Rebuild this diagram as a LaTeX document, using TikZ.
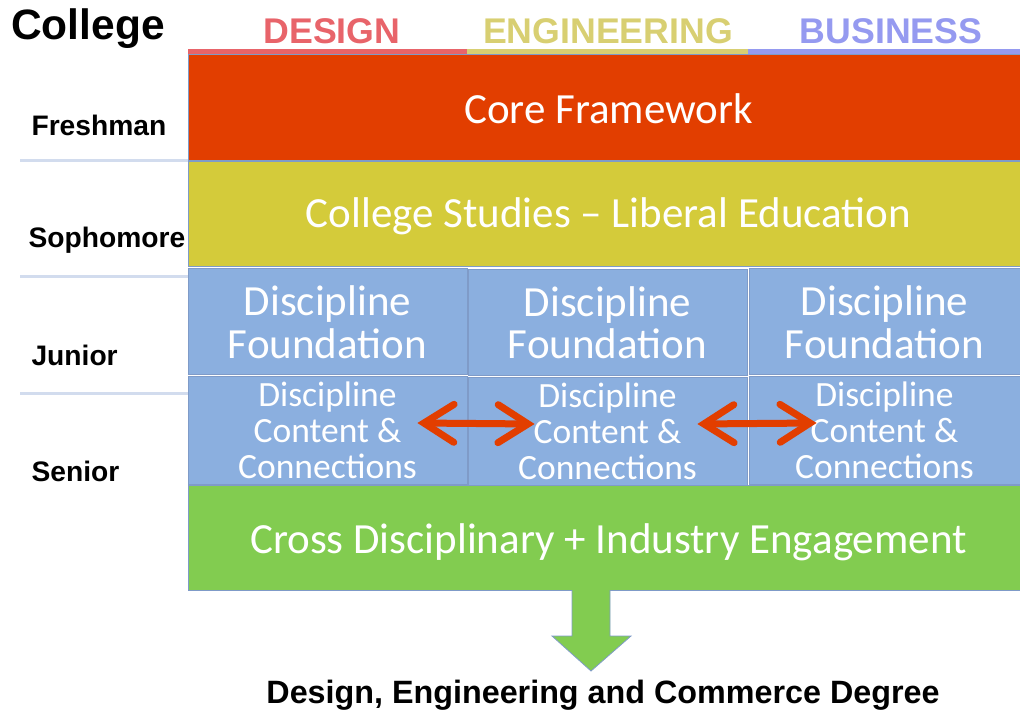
\documentclass[tikz,border=0pt]{standalone}
\usepackage{fontspec}
\setmainfont{Carlito}
\newfontfamily\labelfont{Liberation Sans}
\usetikzlibrary{arrows.meta}

\definecolor{coreRed}{HTML}{E23E00}
\definecolor{studyYellow}{HTML}{D4CB3A}
\definecolor{discBlue}{HTML}{8BAFDF}
\definecolor{crossGreen}{HTML}{82CC50}
\definecolor{edgeBlue}{HTML}{7F9BC8}
\definecolor{designRed}{HTML}{E8646A}
\definecolor{engYellow}{HTML}{D8CF72}
\definecolor{busBlue}{HTML}{959AF0}
\definecolor{sepBlue}{HTML}{D2DCEE}
\definecolor{linkRed}{HTML}{E23E00}

\tikzset{
  band/.style={draw=edgeBlue, line width=0.8pt, inner sep=0pt, text=white,
    align=center, text depth=0pt, font=\fontsize{43}{43}\selectfont},
  wideband/.style={band, minimum width=832pt, execute at begin node=\hspace*{9pt}},
  discbox/.style={band, fill=discBlue, text height=74pt},
  contentbox/.style={band, fill=discBlue, text height=96pt, font=\fontsize{35.5}{36}\selectfont},
  yearlabel/.style={anchor=west, font=\labelfont\bfseries\fontsize{28.2}{31}\selectfont},
  headlabel/.style={font=\labelfont\bfseries\fontsize{35.7}{40}\selectfont},
  link/.style={draw=linkRed, line width=7pt, line cap=round,
    {Straight Barb[length=30pt, width=38pt, line cap=round]}-{Straight Barb[length=30pt, width=38pt, line cap=round]}},
  sepline/.style={draw=sepBlue, line width=3pt},
}

\begin{document}
\begin{tikzpicture}[x=1pt, y=-1pt]
\useasboundingbox (0,0) rectangle (1020,711);

% heading row
\node[font=\labelfont\bfseries\fontsize{42.5}{46}\selectfont] (college) at (88,29) {College};
\node[headlabel, text=designRed] (design) at (332,31) {DESIGN};
\node[headlabel, text=engYellow] (engineering) at (608,31) {ENGINEERING};
\node[headlabel, text=busBlue] (business) at (891,31) {BUSINESS};

% coloured column rules under the headings
\draw[line width=5pt, designRed] (188,51.5) -- (467,51.5);
\draw[line width=5pt, engYellow] (467,51.5) -- (748,51.5);
\draw[line width=5pt, busBlue] (748,51.5) -- (1020,51.5);

% year labels and separators
\node[yearlabel] (fresh) at (28,125) {Freshman};
\node[yearlabel] (soph) at (25,240) {Sophomore};
\node[yearlabel] (junior) at (28,355) {Junior};
\node[yearlabel] (senior) at (28,471) {Senior};
\draw[sepline] (20,161) -- (188,161);
\draw[sepline] (20,277) -- (188,277);
\draw[sepline] (20,393) -- (188,393);

% full-width bands
\node[wideband, fill=coreRed, text height=33pt, minimum height=106pt] (core) at (604,107) {Core Framework};
\node[wideband, fill=studyYellow, text height=28pt, minimum height=105pt] (studies) at (604,214) {College Studies -- Liberal Education};

% discipline columns
\node[discbox, minimum width=279pt, minimum height=106pt] (f1) at (327.5,321) {Discipline\\Foundation};
\node[discbox, minimum width=279pt, minimum height=106pt] (f2) at (607.5,322) {Discipline\\Foundation};
\node[discbox, minimum width=271pt, minimum height=106pt] (f3) at (884.5,321) {Discipline\\Foundation};

\node[contentbox, minimum width=279pt, minimum height=108pt] (c1) at (327.5,430) {Discipline\\Content \&\\Connections};
\node[contentbox, minimum width=279pt, minimum height=108pt] (c2) at (607.5,431) {Discipline\\Content \&\\Connections};
\node[contentbox, minimum width=271pt, minimum height=108pt] (c3) at (884.5,430) {Discipline\\Content \&\\Connections};

% cross disciplinary band
\node[wideband, fill=crossGreen, text height=31pt, minimum height=105pt] (cross) at (604,537.5) {Cross Disciplinary + Industry Engagement};

% links between disciplines
\draw[link] ([xshift=-50pt, yshift=7pt]c1.east) -- ([xshift=67pt, yshift=7pt]c2.west);
\draw[link] ([xshift=-50pt, yshift=7pt]c2.east) -- ([xshift=68pt, yshift=7pt]c3.west);

% outcome
\node[font=\labelfont\bfseries\fontsize{32.3}{36}\selectfont] (degree) at (603,695) {Design, Engineering and Commerce Degree};

% downward block arrow to the degree
\filldraw[fill=crossGreen, draw=edgeBlue, line width=0.8pt]
  (572,590) -- (572,636) -- (552,636) -- (591,671) -- (631,636) -- (610,636) -- (610,590);
\end{tikzpicture}
\end{document}
